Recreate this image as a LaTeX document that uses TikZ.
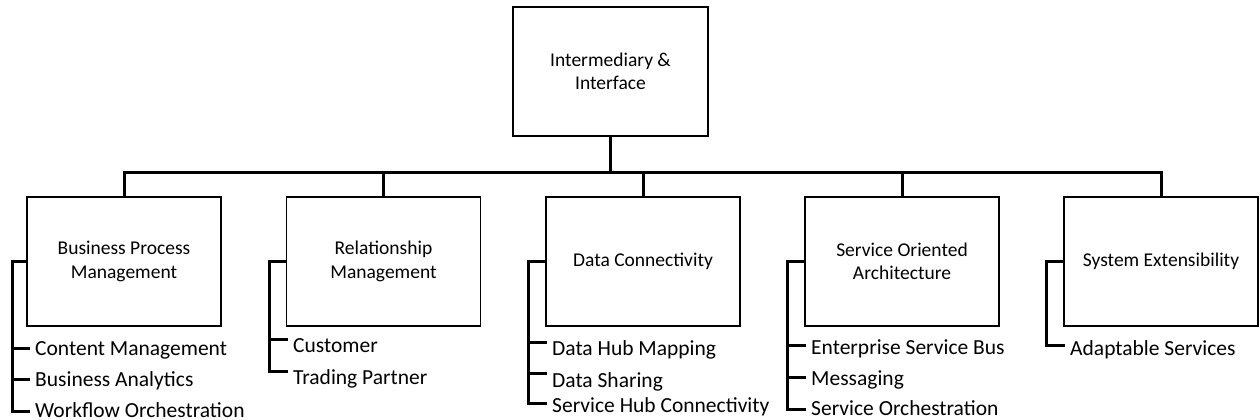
\documentclass[tikz,border=0pt]{standalone}
\usepackage{fontspec}
\setmainfont{Carlito}
\begin{document}
\begin{tikzpicture}[x=1pt,y=-1pt,
  box/.style={draw, line width=1.2pt, minimum width=194pt, minimum height=129pt,
    inner sep=0pt, align=center, font=\fontsize{19.5}{23.5}\selectfont},
  item/.style={anchor=base west, inner xsep=7pt, inner ysep=0pt,
    font=\fontsize{21.5}{26}\selectfont},
  conn/.style={line width=3pt, line cap=rect}]
\useasboundingbox (0,0) rectangle (1260,420);

% root box and the five branches
\node[box, minimum width=195pt] (top) at (610.5,71.5) {Intermediary \&\\Interface};
\node[box] (b1) at (124,261.5) {Business Process\\Management};
\node[box] (b2) at (383.5,261.5) {Relationship\\Management};
\node[box] (b3) at (643,261.5) {Data Connectivity};
\node[box] (b4) at (902,261.5) {Service Oriented\\Architecture};
\node[box] (b5) at (1161,261.5) {System Extensibility};

% sub-items: tick end point (x, tick y) and label baseline
\foreach \n/\x/\y/\b/\t in {
  i11/28/348/355/Content Management, i12/28/379/386/Business Analytics,
  i13/28/411/417/Workflow Orchestration,
  i21/286/339/352/Customer, i22/286/371/384/Trading Partner,
  i31/545/342/355/Data Hub Mapping, i32/545/373/387/Data Sharing,
  i33/545/403/412/Service Hub Connectivity,
  i41/804/345/354/Enterprise Service Bus, i42/804/377/385/Messaging,
  i43/804/409/415/Service Orchestration,
  i51/1063/345/355/Adaptable Services}{
  \coordinate (\n) at (\x,\y);
  \node[item] (\n t) at (\x,\b) {\t};
}

% tree bus
\coordinate (hub) at (610.5,172);
\draw[conn] (top.south) -- (hub);
\foreach \b in {b1,b2,b3,b4,b5}{
  \draw[conn] (hub) -| (\b.north);
}

% side brackets
\coordinate (r1) at (12,0);
\coordinate (r2) at (269,0);
\coordinate (r3) at (528,0);
\coordinate (r4) at (787,0);
\coordinate (r5) at (1046,0);
\draw[conn] (b1.west) -- (r1 |- b1.west) |- (i13);
\draw[conn] (r1 |- i11) -- (i11);
\draw[conn] (r1 |- i12) -- (i12);
\draw[conn] (b2.west) -- (r2 |- b2.west) |- (i22);
\draw[conn] (r2 |- i21) -- (i21);
\draw[conn] (b3.west) -- (r3 |- b3.west) |- (i33);
\draw[conn] (r3 |- i31) -- (i31);
\draw[conn] (r3 |- i32) -- (i32);
\draw[conn] (b4.west) -- (r4 |- b4.west) |- (i43);
\draw[conn] (r4 |- i41) -- (i41);
\draw[conn] (r4 |- i42) -- (i42);
\draw[conn] (b5.west) -- (r5 |- b5.west) |- (i51);
\end{tikzpicture}
\end{document}
